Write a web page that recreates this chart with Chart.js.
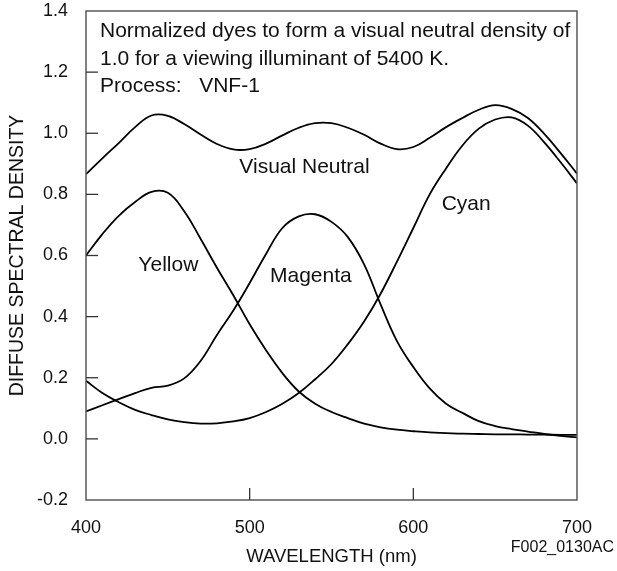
<!DOCTYPE html>
<html>
<head>
<meta charset="utf-8">
<script src="https://cdn.jsdelivr.net/npm/chart.js@4/dist/chart.umd.min.js"></script>
<style>
  html, body { margin: 0; padding: 0; background: #fff; }
  #wrap { width: 617px; height: 571px; }
</style>
</head>
<body>
<div id="wrap"><canvas id="chart" width="617" height="571"></canvas></div>
<script>
/* DATA */
const wavelengths = [400, 410, 420, 430, 440, 450, 460, 470, 480, 490, 500, 510, 520, 530, 540, 550,
  560, 570, 580, 590, 600, 610, 620, 630, 640, 650, 660, 670, 680, 690, 700];

const visualNeutral = [0.866, 0.918, 0.968, 1.02, 1.058, 1.057, 1.03, 0.996, 0.965, 0.947, 0.948, 0.966, 0.993, 1.018, 1.033, 1.033,
  1.018, 0.995, 0.966, 0.948, 0.955, 0.985, 1.02, 1.05, 1.077, 1.092, 1.08, 1.05, 0.998, 0.935, 0.868];

const yellow = [0.6, 0.67, 0.73, 0.775, 0.808, 0.805, 0.745, 0.655, 0.56, 0.47, 0.375, 0.29, 0.215, 0.155, 0.115, 0.088,
  0.068, 0.05, 0.038, 0.03, 0.025, 0.021, 0.019, 0.017, 0.016, 0.015, 0.015, 0.014, 0.014, 0.013, 0.013];

const magenta = [0.09, 0.11, 0.13, 0.15, 0.167, 0.174, 0.198, 0.255, 0.34, 0.42, 0.51, 0.605, 0.69, 0.728, 0.735, 0.71,
  0.66, 0.57, 0.44, 0.32, 0.235, 0.165, 0.115, 0.085, 0.058, 0.042, 0.032, 0.024, 0.016, 0.01, 0.005];

const cyan = [0.19, 0.15, 0.12, 0.095, 0.078, 0.064, 0.055, 0.05, 0.051, 0.057, 0.068, 0.088, 0.115, 0.15, 0.195, 0.245,
  0.31, 0.385, 0.475, 0.58, 0.69, 0.8, 0.885, 0.96, 1.015, 1.045, 1.052, 1.025, 0.97, 0.905, 0.836];

const xTicks = [400, 500, 600, 700];
const yTicks = [-0.2, 0.0, 0.2, 0.4, 0.6, 0.8, 1.0, 1.2, 1.4];

/* curve labels: [text, wavelength, density] (left edge / baseline) */
const curveLabels = [
  ['Visual Neutral', 493.7, 0.869],
  ['Yellow', 432, 0.549],
  ['Magenta', 512.4, 0.514],
  ['Cyan', 617.3, 0.749],
];

const noteLines = [
  'Normalized dyes to form a visual neutral density of',
  '1.0 for a viewing illuminant of 5400 K.',
  'Process:   VNF-1',
];

const FONT = '"Liberation Sans", Arial, Helvetica, sans-serif';
const ink = '#000';
const frame = '#5a5a5a';

function series(data) {
  return {
    data: wavelengths.map((w, i) => ({ x: w, y: data[i] })),
    borderColor: ink,
    borderWidth: 1.8,
    pointRadius: 0,
    fill: false,
    tension: 0.4,
  };
}

/* PLUGIN: frame, inward ticks and texts */
const decor = {
  id: 'decor',
  afterDraw(chart) {
    const ctx = chart.ctx;
    const { left, right, top, bottom } = chart.chartArea;
    const xs = chart.scales.x;
    const ys = chart.scales.y;
    ctx.save();

    // frame
    ctx.strokeStyle = frame;
    ctx.lineWidth = 1.5;
    ctx.strokeRect(left, top, right - left, bottom - top);

    // inward ticks
    ctx.strokeStyle = '#333';
    ctx.lineWidth = 1.3;
    yTicks.slice(1, -1).forEach((v) => {
      const y = ys.getPixelForValue(v);
      ctx.beginPath();
      ctx.moveTo(left, y);
      ctx.lineTo(left + 12, y);
      ctx.stroke();
    });
    xTicks.slice(1, -1).forEach((v) => {
      const x = xs.getPixelForValue(v);
      ctx.beginPath();
      ctx.moveTo(x, bottom);
      ctx.lineTo(x, bottom - 12);
      ctx.stroke();
    });

    // curve labels
    ctx.fillStyle = '#111';
    ctx.font = '21px ' + FONT;
    ctx.textAlign = 'left';
    ctx.textBaseline = 'alphabetic';
    curveLabels.forEach(([t, w, d]) => {
      ctx.fillText(t, xs.getPixelForValue(w), ys.getPixelForValue(d));
    });

    // note
    noteLines.forEach((t, i) => {
      ctx.fillText(t, left + 14, top + 26 + i * 27.6);
    });

    // figure code
    ctx.font = '16px ' + FONT;
    ctx.textAlign = 'right';
    ctx.fillText('F002_0130AC', 614, 552);
    ctx.restore();
  },
};

new Chart(document.getElementById('chart'), {
  type: 'line',
  data: {
    datasets: [series(visualNeutral), series(yellow), series(magenta), series(cyan)],
  },
  options: {
    responsive: false,
    animation: false,
    layout: { padding: { top: 11, right: 40, left: 0, bottom: 0 } },
    plugins: {
      legend: { display: false },
      tooltip: { enabled: false },
    },
    scales: {
      x: {
        type: 'linear',
        min: 400,
        max: 700,
        afterBuildTicks: (s) => { s.ticks = xTicks.map((v) => ({ value: v })); },
        afterFit: (s) => { s.height = 71; s.paddingLeft = 0; s.paddingRight = 0; },
        grid: { display: false, drawTicks: false },
        border: { display: false },
        ticks: { color: '#111', font: { family: FONT, size: 18 }, padding: 17, maxRotation: 0 },
        title: {
          display: true,
          text: 'WAVELENGTH (nm)',
          color: '#111',
          font: { family: FONT, size: 18.5 },
          padding: { top: 0, bottom: 3 },
        },
      },
      y: {
        type: 'linear',
        min: -0.2,
        max: 1.4,
        afterBuildTicks: (s) => { s.ticks = yTicks.map((v) => ({ value: v })); },
        afterFit: (s) => { s.width = 86; s.paddingTop = 0; s.paddingBottom = 0; },
        grid: { display: false, drawTicks: false },
        border: { display: false },
        ticks: {
          color: '#111',
          font: { family: FONT, size: 18 },
          padding: 18,
          callback: (v) => (Math.abs(v) < 1e-9 ? '0.0' : Number(v).toFixed(1)),
        },
        title: {
          display: true,
          text: 'DIFFUSE SPECTRAL DENSITY',
          color: '#111',
          font: { family: FONT, size: 19.5 },
          padding: { top: 6, bottom: 0 },
        },
      },
    },
  },
  plugins: [decor],
});
</script>
</body>
</html>
